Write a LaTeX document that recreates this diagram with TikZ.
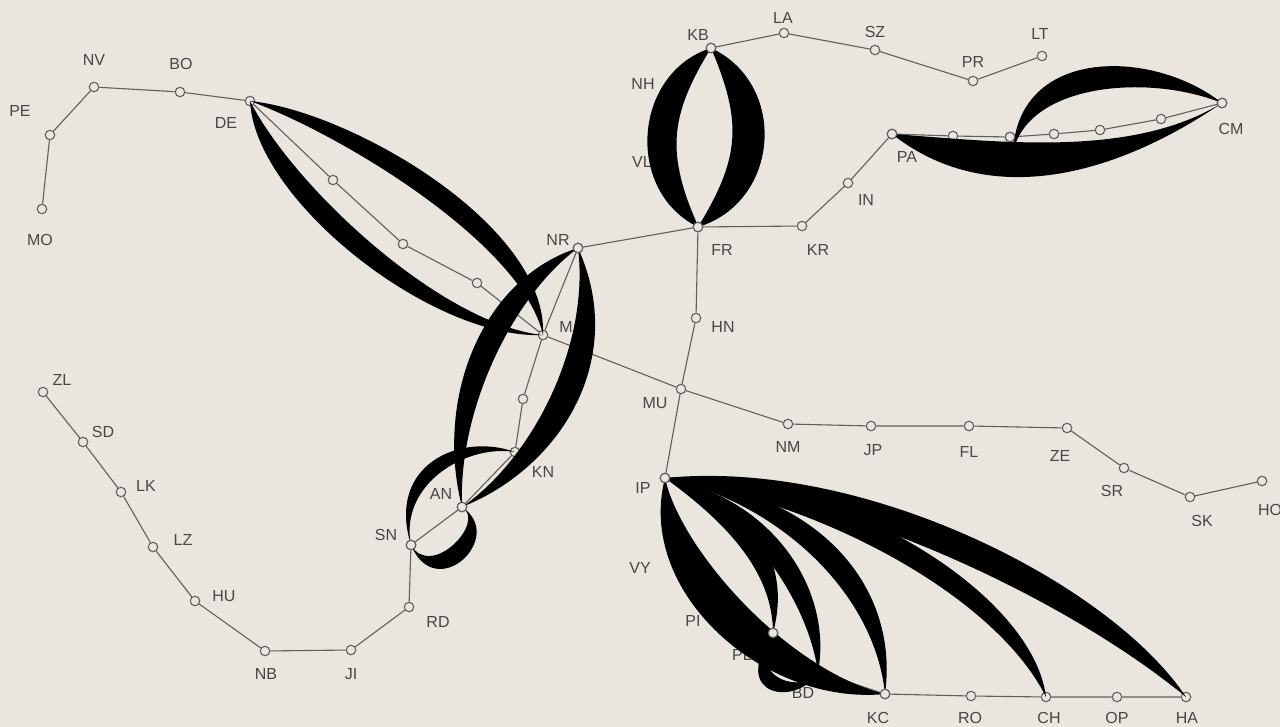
\documentclass[tikz,border=0pt]{standalone}
\usepackage{fontspec}
\setmainfont{Liberation Sans}
\usetikzlibrary{calc}
\definecolor{bg}{RGB}{234,229,223}
\definecolor{linec}{RGB}{95,95,95}
\definecolor{txt}{RGB}{70,70,70}
\tikzset{
  stop/.style={circle,draw=linec,fill=bg,line width=1.1pt,minimum size=9.5pt,inner sep=0pt},
  lbl/.style={text=txt,font=\fontsize{16}{16}\selectfont,inner sep=0pt},
  link/.style={draw=linec,line width=1.1pt},
  flow/.style={fill=black}
}
% #1 from, #2 to, #3 side (90/-90), #4 outer fraction, #5 outer offset, #6 inner fraction, #7 inner offset
\newcommand\flowband[7]{%
 \fill[flow] (#1.center)
  .. controls ($(#1.center)!#4!(#2.center)!#5pt!#3:(#2.center)$)
  and ($(#1.center)!1-#4!(#2.center)!#5pt!#3:(#2.center)$) .. (#2.center)
  .. controls ($(#1.center)!1-#6!(#2.center)!#7pt!#3:(#2.center)$)
  and ($(#1.center)!#6!(#2.center)!#7pt!#3:(#2.center)$) .. (#1.center) -- cycle;}
\begin{document}
\begin{tikzpicture}[x=1pt,y=-1pt]
\fill[bg] (0,0) rectangle (1280,727);
\useasboundingbox (0,0) rectangle (1280,727);
% stops
\foreach \n/\x/\y in {MO/42/209,PE/50/135,NV/94/87,BO/180/92,DE/250/101,
  c1/333/180,c2/403/244,c3/477/283,M/543/335,
  MU/681/389,NM/788/424,JP/871/426,FL/969/426,ZE/1067/428,SR/1124/468,SK/1190/497,HO/1262/481,
  NR/578/248,N1/523/399,KN/515/452,AN/462/507,SN/411/545,RD/409/607,JI/351/650,NB/265/651,
  HU/195/601,LZ/153/547,LK/121/492,SD/83/442,ZL/43/392,
  FR/698/227,KR/802/226,IN/848/183,PA/892/134,p1/953/136,p2/1010/137,p3/1054/134,p4/1100/130,p5/1161/119,CM/1222/103,
  VL/669/158,NH/667/100,KB/711/48,LA/784/33,SZ/875/50,PR/973/81,LT/1042/56,
  HN/696/318,IP/665/478,VY/674/552,PI/718/600,PX/773/633,BD/818/672,KC/885/694,RO/971/696,CH/1046/697,OP/1117/697,HA/1186/697}
  {\node[stop] (\n) at (\x,\y) {};}
\coordinate (hook) at (1013,152);
% links
\draw[link] (MO) -- (PE) -- (NV) -- (BO) -- (DE) -- (c1) -- (c2) -- (c3) -- (M) -- (MU) -- (NM) -- (JP) -- (FL) -- (ZE) -- (SR) -- (SK) -- (HO);
\draw[link] (NR) -- (M) -- (N1) -- (KN) -- (AN) -- (SN) -- (RD) -- (JI) -- (NB) -- (HU) -- (LZ) -- (LK) -- (SD) -- (ZL);
\draw[link] (NR) -- (FR) -- (KR) -- (IN) -- (PA) -- (p1) -- (p2) -- (p3) -- (p4) -- (p5) -- (CM);
\draw[link] (FR) -- (VL) -- (NH) -- (KB) -- (LA) -- (SZ) -- (PR) -- (LT);
\draw[link] (FR) -- (HN) -- (MU) -- (IP) -- (VY) -- (PI) -- (PX) -- (BD) -- (KC) -- (RO) -- (CH) -- (OP) -- (HA);
% labels
\foreach \n/\t/\x/\y in {MO/MO/40/240,PE/PE/20/111,NV/NV/94/60,BO/BO/181/64,DE/DE/226/123,M/M/566/327,
  MU/MU/655/403,NM/NM/788/447,JP/JP/873/450,FL/FL/969/452,ZE/ZE/1060/456,SR/SR/1112/491,SK/SK/1202/521,HO/HO/1270/510,
  NR/NR/558/240,KN/KN/543/472,AN/AN/441/494,SN/SN/386/535,RD/RD/438/622,JI/JI/351/674,NB/NB/266/674,
  HU/HU/224/596,LZ/LZ/183/540,LK/LK/146/486,SD/SD/103/432,ZL/ZL/62/380,
  FR/FR/722/250,KR/KR/818/250,IN/IN/866/200,PA/PA/907/157,CM/CM/1231/129,
  VL/VL/642/162,NH/NH/643/84,KB/KB/698/35,LA/LA/783/18,SZ/SZ/875/32,PR/PR/973/62,LT/LT/1040/34,
  HN/HN/723/327,IP/IP/643/488,VY/VY/640/568,PI/PI/693/621,PX/PL/742/655,BD/BD/803/693,
  KC/KC/878/718,RO/RO/970/718,CH/CH/1049/718,OP/OP/1117/718,HA/HA/1187/718}
  {\node[lbl] (l\n) at (\x,\y) {\t};}
% DE--M
\fill[flow] (DE.center) .. controls +(100,10) and +(5,-110) .. (M.center)
  .. controls +(-20,-90) and +(95,35) .. (DE.center) -- cycle;
\fill[flow] (DE.center) .. controls +(5,100) and +(-110,5) .. (M.center)
  .. controls +(-100,-10) and +(45,88) .. (DE.center) -- cycle;
% NR--AN
\fill[flow] (NR.center) .. controls +(50,110) and +(100,-40) .. (AN.center)
  .. controls +(70,-48) and +(12,98) .. (NR.center) -- cycle;
\fill[flow] (NR.center) .. controls +(-95,30) and +(-28,-110) .. (AN.center)
  .. controls +(-4,-98) and +(-65,48) .. (NR.center) -- cycle;
% KB--FR
\flowband{KB}{FR}{90}{0.17}{80}{0.4}{37}
\flowband{KB}{FR}{-90}{0.17}{76}{0.4}{37}
% PA--CM
\fill[flow] (PA.center) .. controls +(95,75) and +(-110,75) .. (CM.center)
  .. controls +(-90,55) and +(110,8) .. (PA.center) -- cycle;
\fill[flow] (hook) .. controls +(5,-105) and +(-70,-55) .. (CM.center)
  .. controls +(-75,-30) and +(15,-68) .. (hook) -- cycle;
% IP fan
\fill[flow] (IP.center) .. controls +(-30,115) and +(-120,12) .. (KC.center)
  .. controls +(-100,-25) and +(15,70) .. (IP.center) -- cycle;
\fill[flow] (IP.center) .. controls +(85,25) and +(20,-75) .. (PX.center)
  .. controls +(0,-65) and +(55,40) .. (IP.center) -- cycle;
\fill[flow] (IP.center) .. controls +(110,20) and +(15,-80) .. (BD.center)
  .. controls +(-10,-70) and +(85,35) .. (IP.center) -- cycle;
\fill[flow] (IP.center) .. controls +(150,10) and +(15,-110) .. (KC.center)
  .. controls +(-10,-100) and +(115,25) .. (IP.center) -- cycle;
\fill[flow] (IP.center) .. controls +(200,-20) and +(-75,-113) .. (HA.center)
  .. controls +(-105,-87) and +(200,20) .. (IP.center) -- cycle;
\fill[flow] (IP.center) .. controls +(170,-8) and +(-13,-105) .. (CH.center)
  .. controls +(-47,-95) and +(170,28) .. (IP.center) -- cycle;
\fill[flow] (PX.center) .. controls +(-45,65) and +(-20,35) .. (BD.center)
  .. controls +(-12,22) and +(-28,48) .. (PX.center) -- cycle;
% SN loops
\fill[flow] (SN.center) .. controls +(-25,-80) and +(-55,-20) .. (KN.center)
  .. controls +(-50,-8) and +(-12,-60) .. (SN.center) -- cycle;
\fill[flow] (SN.center) .. controls +(25,60) and +(45,30) .. (AN.center)
  .. controls +(25,15) and +(20,35) .. (SN.center) -- cycle;
% stops visible on top of flows
\foreach \n in {KB,FR,NR,PA,p2,CM,IP,KC,SN,AN,PX}
  {\node[stop] (\n top) at (\n) {};}
\end{tikzpicture}
\end{document}
